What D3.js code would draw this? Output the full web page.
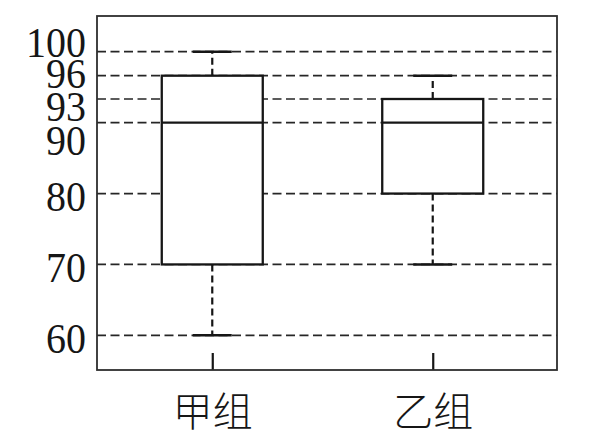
<!DOCTYPE html>
<html lang="zh">
	<head>
		<meta charset="utf-8">
		<title>甲组 乙组 箱线图</title>
		<script type="text/javascript" src="https://cdn.jsdelivr.net/npm/d3@7"></script>
		<style type="text/css">
			body { margin: 0; background: #fff; }
		</style>
	</head>
	<body>
		<script type="text/javascript">

			//Data
			let groups = ["甲组", "乙组"];
			let mins    = [60, 70];
			let q1s     = [70, 80];
			let medians = [90, 90];
			let q3s     = [96, 93];
			let maxs    = [100, 96];
			let yTicks  = [60, 70, 80, 90, 93, 96, 100];

			//Width and height
			let w = 592;
			let h = 439;
			let frame = { left: 97, right: 557, top: 16, bottom: 370 };

			//Labels near the top are spread apart so they don't overlap too much
			let labelNudge = { 100: -12, 96: -5, 93: 4, 90: 15 };

			//Top of the axis is stretched (90..100 spaced out)
			let y = d3.scaleLinear()
						.domain([60, 90, 93, 96, 100])
						.range([335.3, 122.7, 99, 75.7, 51.7]);

			let x = d3.scalePoint()
						.domain(groups)
						.range([91, 554])
						.padding(0.55);

			let boxW = 101;
			let capW = 39;
			let ink = "#161616";

			let svg = d3.select("body")
						.append("svg")
						  .attr("width", w)
						  .attr("height", h);

			//Dashed gridlines
			svg.selectAll("line.grid")
			     .data(yTicks)
			     .enter()
			   .append("line")
			     .attr("class", "grid")
			     .attr("x1", frame.left)
			     .attr("x2", frame.right)
			     .attr("y1", d => y(d))
			     .attr("y2", d => y(d))
			     .style("stroke", "#262626")
			     .style("stroke-width", 1.7)
			     .style("stroke-dasharray", "9,4.5");

			//Y labels (slightly condensed, like the original)
			svg.selectAll("text.ylab")
			     .data(yTicks)
			     .enter()
			   .append("text")
			     .attr("class", "ylab")
			     .attr("transform", d => `translate(86,${y(d) + 3 + (labelNudge[d] || 0)}) scale(0.93,1)`)
			     .attr("dy", "0.34em")
			     .attr("text-anchor", "end")
			     .style("font-family", "'Liberation Serif', 'DejaVu Serif', serif")
			     .style("font-size", "43px")
			     .style("fill", ink)
			     .text(d => d);

			let boxes = groups.map((g, i) => ({
				name: g, min: mins[i], q1: q1s[i], med: medians[i], q3: q3s[i], max: maxs[i]
			}));

			let g = svg.selectAll("g.box")
			     .data(boxes)
			     .enter()
			   .append("g")
			     .attr("class", "box");

			//Whiskers
			g.append("line")
			     .attr("x1", d => x(d.name))
			     .attr("x2", d => x(d.name))
			     .attr("y1", d => y(d.q1))
			     .attr("y2", d => y(d.min))
			     .style("stroke", ink)
			     .style("stroke-width", 2.2)
			     .style("stroke-dasharray", "7,4");
			g.append("line")
			     .attr("x1", d => x(d.name))
			     .attr("x2", d => x(d.name))
			     .attr("y1", d => y(d.q3))
			     .attr("y2", d => y(d.max))
			     .style("stroke", ink)
			     .style("stroke-width", 2.2)
			     .style("stroke-dasharray", "7,4");

			//Caps
			["min", "max"].forEach(k => {
				g.append("line")
				     .attr("x1", d => x(d.name) - capW / 2)
				     .attr("x2", d => x(d.name) + capW / 2)
				     .attr("y1", d => y(d[k]))
				     .attr("y2", d => y(d[k]))
				     .style("stroke", ink)
				     .style("stroke-width", 2.4);
			});

			//Box
			g.append("rect")
			     .attr("x", d => x(d.name) - boxW / 2)
			     .attr("y", d => y(d.q3))
			     .attr("width", boxW)
			     .attr("height", d => y(d.q1) - y(d.q3))
			     .style("fill", "#fff")
			     .style("stroke", ink)
			     .style("stroke-width", 2.3);

			//Median
			g.append("line")
			     .attr("x1", d => x(d.name) - boxW / 2)
			     .attr("x2", d => x(d.name) + boxW / 2)
			     .attr("y1", d => y(d.med))
			     .attr("y2", d => y(d.med))
			     .style("stroke", ink)
			     .style("stroke-width", 2.3);

			//Bottom axis with inward ticks
			let xAxis = d3.axisBottom(x)
							.tickSizeInner(-17)
							.tickSizeOuter(0)
							.tickPadding(28);

			let ax = svg.append("g")
			     .attr("transform", `translate(0,${frame.bottom})`)
			     .call(xAxis);
			ax.select(".domain").remove();
			ax.selectAll(".tick line")
			     .style("stroke", ink)
			     .style("stroke-width", 2.2);
			ax.selectAll(".tick text")
			     .style("font-family", "'Noto Sans CJK SC', sans-serif")
			     .style("font-size", "40px")
			     .style("font-weight", 300)
			     .style("fill", ink);

			//Frame
			svg.append("rect")
			     .attr("x", frame.left)
			     .attr("y", frame.top)
			     .attr("width", frame.right - frame.left)
			     .attr("height", frame.bottom - frame.top)
			     .style("fill", "none")
			     .style("stroke", "#2e2e2e")
			     .style("stroke-width", 1.8);

		</script>
	</body>
</html>
